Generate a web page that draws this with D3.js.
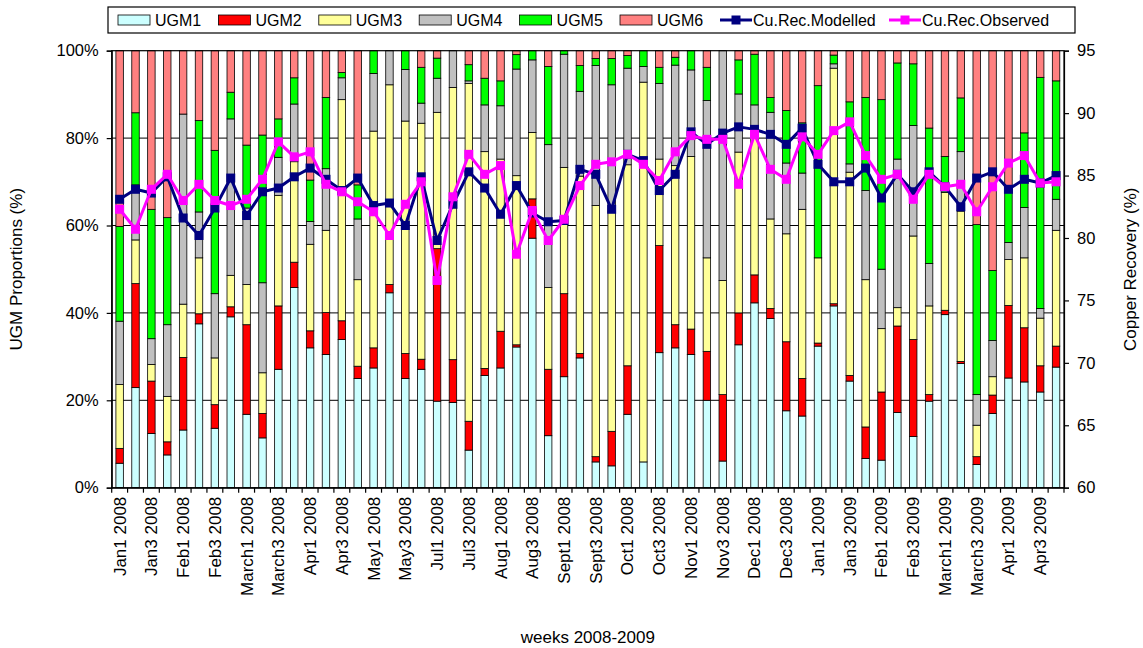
<!DOCTYPE html>
<html>
<head>
<meta charset="utf-8">
<script src="https://cdn.jsdelivr.net/npm/d3@7/dist/d3.min.js"></script>
<style>
  html, body { margin: 0; padding: 0; background: #fff; }
  svg { display: block; font-family: "Liberation Sans", Arial, sans-serif; }
</style>
</head>
<body>
<svg id="chart" width="1143" height="648"></svg>
<script>
// Weekly categories (four weeks per month; June 2008 has no data)
const weeks = [
  "Jan1 2008","Jan2 2008","Jan3 2008","Jan4 2008",
  "Feb1 2008","Feb2 2008","Feb3 2008","Feb4 2008",
  "March1 2008","March2 2008","March3 2008","March4 2008",
  "Apr1 2008","Apr2 2008","Apr3 2008","Apr4 2008",
  "May1 2008","May2 2008","May3 2008","May4 2008",
  "Jul1 2008","Jul2 2008","Jul3 2008","Jul4 2008",
  "Aug1 2008","Aug2 2008","Aug3 2008","Aug4 2008",
  "Sept1 2008","Sept2 2008","Sept3 2008","Sept4 2008",
  "Oct1 2008","Oct2 2008","Oct3 2008","Oct4 2008",
  "Nov1 2008","Nov2 2008","Nov3 2008","Nov4 2008",
  "Dec1 2008","Dec2 2008","Dec3 2008","Dec4 2008",
  "Jan1 2009","Jan2 2009","Jan3 2009","Jan4 2009",
  "Feb1 2009","Feb2 2009","Feb3 2009","Feb4 2009",
  "March1 2009","March2 2009","March3 2009","March4 2009",
  "Apr1 2009","Apr2 2009","Apr3 2009","Apr4 2009"
];

// UGM proportions (%) per week
const ugm1 = [5.6,22.9,12.4,7.5,13.2,37.5,13.6,39.1,16.8,11.4,27.1,45.8,32.0,30.5,33.9,25.0,27.4,44.6,25.0,27.1,
  19.8,19.5,8.6,25.7,27.4,32.2,57.1,11.9,25.4,29.7,5.9,5.0,16.8,5.9,30.9,32.0,30.5,20.0,6.1,32.7,
  42.3,38.7,17.6,16.4,32.4,41.6,24.4,6.7,6.3,17.2,11.7,19.8,39.6,28.4,5.3,17.0,25.1,24.2,21.9,27.6];
const ugm2 = [3.4,23.8,12.0,3.0,16.6,2.3,5.4,2.3,20.5,5.6,14.5,5.8,3.9,9.6,4.3,2.8,4.6,1.9,5.7,2.3,
  34.9,9.8,6.6,1.6,8.4,0.5,9.0,15.2,19.0,1.0,1.2,7.9,11.1,0.0,24.5,5.3,5.8,11.2,15.2,7.3,
  6.4,2.3,15.8,8.6,0.7,0.5,1.3,7.2,15.6,19.8,22.2,1.5,1.0,0.5,1.8,4.2,16.6,12.4,6.0,4.8];
const ugm3 = [14.6,10.0,3.8,10.4,12.2,12.8,10.7,7.2,9.2,9.3,25.3,23.0,19.8,18.8,50.6,19.8,49.6,45.7,53.2,54.0,
  31.2,62.3,77.3,49.6,39.4,38.7,15.2,18.7,28.9,40.6,57.5,50.2,46.0,86.9,19.8,36.4,39.5,21.4,26.1,36.8,
  32.6,20.5,24.7,38.7,19.5,53.9,46.5,33.7,14.5,4.2,23.7,20.3,27.0,34.4,7.2,4.2,10.5,16.0,10.9,26.5];
const ugm4 = [14.5,12.6,5.9,16.4,43.5,10.5,14.7,35.8,17.5,20.6,8.7,13.2,5.2,14.1,5.0,13.9,13.2,7.8,11.8,4.6,
  7.8,8.4,0.6,10.7,12.2,24.4,16.6,32.7,25.9,19.4,32.0,29.1,22.1,3.6,17.3,23.0,19.8,36.0,52.6,13.3,
  6.3,24.4,16.2,8.3,0.0,1.0,1.9,20.4,13.6,34.0,25.3,9.7,0.0,13.6,7.0,8.3,3.9,11.5,2.2,7.1];
const ugm5 = [21.7,16.5,29.6,24.5,0.0,20.9,32.8,6.1,14.4,33.8,8.8,6.0,9.5,16.3,1.2,7.8,5.2,0.0,4.3,8.2,
  4.6,0.0,3.7,6.1,5.7,3.3,2.1,17.9,0.8,5.9,1.6,6.0,2.9,3.6,3.7,1.8,4.4,7.6,0.0,7.8,
  11.6,3.4,12.0,11.5,39.4,2.0,14.2,21.3,38.8,22.0,14.1,31.0,8.2,12.3,38.9,16.0,11.5,17.1,52.9,27.1];
const ugm6 = [40.2,14.2,36.3,38.2,14.5,16.0,22.8,9.5,21.6,19.3,15.6,6.2,29.6,10.7,5.0,30.7,0.0,0.0,0.0,3.8,
  1.7,0.0,3.2,6.3,6.9,0.9,0.0,3.6,0.0,3.4,1.8,1.8,1.1,0.0,3.8,1.5,0.0,3.8,0.0,2.1,
  0.8,10.7,13.7,16.5,8.0,1.0,11.7,10.7,11.2,2.8,3.0,17.7,24.2,10.8,39.8,50.3,32.4,18.8,6.1,6.9];

// Copper recovery (%) — modelled and observed
const cuModelled = [83.1,83.9,83.6,84.9,81.6,80.2,82.4,84.8,81.8,83.7,84.0,84.9,85.6,84.7,83.8,84.8,82.6,82.8,81.0,84.9,
  79.8,82.7,85.3,84.0,81.9,84.2,82.0,81.3,81.4,85.5,85.1,82.3,86.7,86.2,83.8,85.1,88.5,87.5,88.4,88.9,
  88.7,88.3,87.5,88.8,85.9,84.5,84.5,85.6,83.2,85.1,83.7,85.3,84.1,82.5,84.8,85.3,83.9,84.7,84.4,85.0];
const cuObserved = [82.3,80.7,83.9,85.1,83.0,84.3,83.0,82.6,83.1,84.7,87.7,86.5,86.9,84.3,83.7,82.9,82.1,80.2,82.7,84.5,
  76.6,83.3,86.7,85.1,85.8,78.7,82.2,79.8,81.5,84.2,85.9,86.1,86.7,85.9,84.6,86.9,88.2,87.9,87.9,84.3,
  88.3,85.5,84.7,88.1,86.7,88.6,89.3,86.6,84.7,85.1,83.1,85.1,84.1,84.3,82.1,84.1,86.0,86.6,84.4,84.5];

const pctTicks = [0, 20, 40, 60, 80, 100];
const recTicks = [60, 65, 70, 75, 80, 85, 90, 95];

const seriesNames = ["UGM1", "UGM2", "UGM3", "UGM4", "UGM5", "UGM6"];
const seriesColors = ["#CCFFFF", "#FF0000", "#FFFF99", "#C0C0C0", "#00FF00", "#FF8080"];
const lineNames = ["Cu.Rec.Modelled", "Cu.Rec.Observed"];
const lineColors = ["#000080", "#FF00FF"];

// Plot frame
const plot = { left: 111.7, right: 1064, top: 50.7, bottom: 487.7 };

const svg = d3.select("#chart");
svg.append("rect").attr("width", 1143).attr("height", 648).attr("fill", "#fff");

const x = d3.scaleBand().domain(weeks).range([plot.left, plot.right])
  .paddingInner(0.53).paddingOuter(0.265);
const yPct = d3.scaleLinear().domain([0, 100]).range([plot.bottom, plot.top]);
const yRec = d3.scaleLinear().domain([60, 95]).range([plot.bottom, plot.top]);

// Table of rows for stacking
const rows = weeks.map((w, i) => ({
  week: w, UGM1: ugm1[i], UGM2: ugm2[i], UGM3: ugm3[i], UGM4: ugm4[i], UGM5: ugm5[i], UGM6: ugm6[i]
}));
const stacked = d3.stack().keys(seriesNames).offset(d3.stackOffsetExpand)(rows);

// Horizontal gridlines
svg.append("g").selectAll("line")
  .data(pctTicks.filter(t => t > 0 && t < 100))
  .join("line")
  .attr("x1", plot.left).attr("x2", plot.right)
  .attr("y1", d => yPct(d)).attr("y2", d => yPct(d))
  .attr("stroke", "#000").attr("stroke-width", 1);

// Stacked bars
svg.append("g").selectAll("g")
  .data(stacked)
  .join("g")
  .attr("fill", (d, i) => seriesColors[i])
  .selectAll("rect")
  .data(d => d)
  .join("rect")
  .attr("x", d => x(d.data.week))
  .attr("width", x.bandwidth())
  .attr("y", d => yPct(d[1] * 100))
  .attr("height", d => yPct(d[0] * 100) - yPct(d[1] * 100))
  .attr("stroke", "#000").attr("stroke-width", 0.8)
  .attr("display", d => (d[1] - d[0]) > 0 ? null : "none");

// Plot border
svg.append("rect")
  .attr("x", plot.left).attr("y", plot.top)
  .attr("width", plot.right - plot.left).attr("height", plot.bottom - plot.top)
  .attr("fill", "none").attr("stroke", "#000").attr("stroke-width", 1.2);

// Recovery lines with square markers
const cx = w => x(w) + x.bandwidth() / 2;
[cuModelled, cuObserved].forEach((vals, k) => {
  const line = d3.line().x((v, i) => cx(weeks[i])).y(v => yRec(v));
  svg.append("path").datum(vals)
    .attr("d", line).attr("fill", "none")
    .attr("stroke", lineColors[k]).attr("stroke-width", 3)
    .attr("stroke-linejoin", "round");
  svg.append("g").selectAll("rect").data(vals).join("rect")
    .attr("x", (v, i) => cx(weeks[i]) - 4.5)
    .attr("y", v => yRec(v) - 4.5)
    .attr("width", 9).attr("height", 9)
    .attr("fill", lineColors[k]);
});

// Left axis (percentages)
const leftAxis = svg.append("g")
  .attr("transform", `translate(${plot.left},0)`)
  .call(d3.axisLeft(yPct).tickValues(pctTicks).tickFormat(d => d + "%").tickSize(5).tickPadding(8));
// Right axis (copper recovery)
const rightAxis = svg.append("g")
  .attr("transform", `translate(${plot.right},0)`)
  .call(d3.axisRight(yRec).tickValues(recTicks).tickSize(5).tickPadding(8));
// Bottom axis (week labels on alternate weeks)
const bottomAxis = svg.append("g")
  .attr("transform", `translate(0,${plot.bottom})`)
  .call(d3.axisBottom(x).tickValues(weeks.filter((w, i) => i % 2 === 0)).tickSize(0).tickPadding(9));

[leftAxis, rightAxis, bottomAxis].forEach(g => {
  g.select(".domain").attr("stroke", "#000").attr("stroke-width", 1.2);
  g.selectAll(".tick line").attr("stroke", "#000").attr("stroke-width", 1.2);
  g.selectAll("text").attr("fill", "#000").attr("font-size", 16.5)
    .attr("font-family", "'Liberation Sans', Arial, sans-serif");
});

bottomAxis.selectAll("text")
  .attr("font-size", 17)
  .attr("transform", "rotate(-90)")
  .attr("text-anchor", "end")
  .attr("x", -9).attr("y", 0).attr("dy", "0.35em");

// Category boundary ticks on the bottom axis
svg.append("g").selectAll("line")
  .data(d3.range(weeks.length + 1))
  .join("line")
  .attr("x1", i => plot.left + i * x.step())
  .attr("x2", i => plot.left + i * x.step())
  .attr("y1", plot.bottom).attr("y2", plot.bottom + 5)
  .attr("stroke", "#000").attr("stroke-width", 1.2);

// Axis titles
svg.append("text")
  .attr("transform", `translate(22,${(plot.top + plot.bottom) / 2}) rotate(-90)`)
  .attr("text-anchor", "middle").attr("font-size", 17).text("UGM Proportions (%)");
svg.append("text")
  .attr("transform", `translate(1136,${(plot.top + plot.bottom) / 2}) rotate(-90)`)
  .attr("text-anchor", "middle").attr("font-size", 17).text("Copper Recovery (%)");
svg.append("text")
  .attr("x", (plot.left + plot.right) / 2).attr("y", 643)
  .attr("text-anchor", "middle").attr("font-size", 17).text("weeks 2008-2009");

// Legend
const legend = svg.append("g");
legend.append("rect")
  .attr("x", 108).attr("y", 7).attr("width", 967).attr("height", 26)
  .attr("fill", "#fff").attr("stroke", "#000").attr("stroke-width", 1.2);
seriesNames.forEach((name, i) => {
  const lx = 118 + i * 100.4;
  legend.append("rect").attr("x", lx).attr("y", 15).attr("width", 32).attr("height", 10)
    .attr("fill", seriesColors[i]).attr("stroke", "#000").attr("stroke-width", 0.8);
  legend.append("text").attr("x", lx + 37).attr("y", 26).attr("font-size", 16).text(name);
});
const lineLegendX = [720, 889];
lineNames.forEach((name, k) => {
  const lx = lineLegendX[k];
  legend.append("line").attr("x1", lx).attr("x2", lx + 32).attr("y1", 20).attr("y2", 20)
    .attr("stroke", lineColors[k]).attr("stroke-width", 3);
  legend.append("rect").attr("x", lx + 11.5).attr("y", 15.5).attr("width", 9).attr("height", 9)
    .attr("fill", lineColors[k]);
  legend.append("text").attr("x", lx + 33).attr("y", 26).attr("font-size", 16).text(name);
});
</script>
</body>
</html>
